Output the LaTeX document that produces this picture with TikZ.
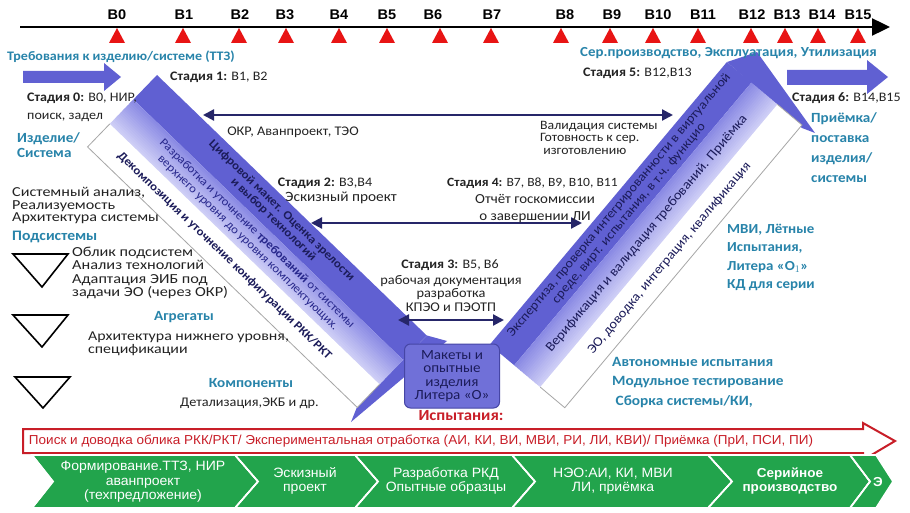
\documentclass[tikz,border=0pt]{standalone}
\usepackage{fontspec}
\setmainfont{Carlito}[FakeStretch=1.08]
\newfontfamily\midfont{Carlito}[FakeStretch=1.18]
\newfontfamily\ari{Liberation Sans}[FakeStretch=1.04]
\usetikzlibrary{arrows.meta}
\definecolor{hdc}{RGB}{40,132,170}
\definecolor{bandD}{RGB}{96,96,210}
\definecolor{midA}{RGB}{138,138,228}
\definecolor{midB}{RGB}{206,206,246}
\definecolor{navyc}{RGB}{28,28,90}
\definecolor{midtx}{RGB}{40,40,140}
\definecolor{arrc}{RGB}{38,38,105}
\definecolor{txtc}{RGB}{35,35,35}
\definecolor{redc}{RGB}{200,30,40}
\definecolor{grn}{RGB}{34,164,76}
\definecolor{trired}{RGB}{232,20,20}
\definecolor{boxf}{RGB}{112,112,216}
\definecolor{boxd}{RGB}{70,70,165}
\begin{document}
\begin{tikzpicture}[x=1pt,y=-1pt,
 txtn/.style={inner sep=0pt,text=txtc,font=\fontsize{13}{13}\selectfont},
 hdn/.style={inner sep=0pt,text=hdc,font=\fontsize{14}{15}\selectfont\bfseries},
 blab/.style={inner sep=0pt,font=\ari\bfseries\fontsize{14}{14}\selectfont},
 harr/.style={draw=arrc,line width=2.2pt,{Triangle[length=11pt,width=11pt]}-{Triangle[length=11pt,width=11pt]}},
 chev/.style={fill=grn,draw=white,line width=1.6pt,line join=miter},
 chtx/.style={inner sep=0pt,text=white,align=center,font=\ari\fontsize{13.5}{14.5}\selectfont},
 bandtx/.style={inner sep=0pt,transform shape,align=center,font=\fontsize{12}{13}\selectfont},
]
\useasboundingbox (0,0) rectangle (910,513);
\fill[white] (0,0) rectangle (910,513);

% ---------- timeline ----------
\coordinate (tlA) at (20,27);
\coordinate (tlB) at (890,27);
\draw[line width=2.4pt,-{Triangle[length=18pt,width=17pt]}] (tlA) -- (tlB);
\foreach \x in {117,183,239,286,339,387,440,491,561,610,653,698,751,785,818,858}
  \fill[trired] (\x-8,43) -- (\x,28) -- (\x+8,43) -- cycle;
\foreach \x/\t in {117/B0,184/B1,240/B2,285/B3,339/B4,387/B5,433/B6,492/B7,565/B8,612/B9,658/B10,703/B11,752/B12,787/B13,822/B14,858/B15}
  \node[blab] (lab\t) at (\x,15) {\t};

% ---------- side arrows ----------
\fill[bandD] (23,71) -- (104,71) -- (104,63) -- (121,77) -- (104,91) -- (104,83) -- (23,83) -- cycle;
\fill[bandD] (787,70) -- (867,70) -- (867,60) -- (888,77) -- (867,94) -- (867,85) -- (787,85) -- cycle;

% ---------- left band ----------
\fill[bandD] (427,335.5) -- (447,341) -- (351,422) -- (357,407) -- cycle;
\begin{scope}[shift={(157,75)},rotate=-44]
  \fill[bandD] (0,0) rectangle (375,34);
  \foreach \i in {0,...,16}{
    \pgfmathsetmacro\p{100-\i*100/16}
    \fill[midA!\p!midB] (0,34+2*\i) rectangle (375,36.6+2*\i);}
  \fill[white] (0,68) rectangle (375,100);
  \draw[gray!70,line width=0.8pt] (0,68) -- (0,100) -- (375,100) -- (375,68);
  \node[bandtx,text=navyc,font=\fontsize{12}{12}\selectfont\bfseries] (lt1) at (184,17)
     {Цифровой макет. Оценка зрелости\\и выбор технологий};
  \node[bandtx,text=midtx] (lt2) at (182,51)
     {Разработка  и уточнение \textbf{требований} от системы\\верхнего уровня  до уровня комплектующих.};
  \node[bandtx,text=navyc,font=\fontsize{12}{13}\selectfont\bfseries] (lt3) at (174,83)
     {Декомпозиция  и уточнение  конфигурации  РКК/РКТ};
\end{scope}

% ---------- right band ----------
\fill[bandD] (727,62) -- (757,52) -- (815,133) -- (802,128) -- cycle;
\begin{scope}[shift={(489.7,344.7)},rotate=50]
  \fill[bandD] (0,0) rectangle (369,32);
  \foreach \i in {0,...,16}{
    \pgfmathsetmacro\p{100-\i*100/16}
    \fill[midA!\p!midB] (0,32+2*\i) rectangle (369,34.6+2*\i);}
  \fill[white] (0,66) rectangle (369,98);
  \draw[gray!70,line width=0.8pt] (0,66) -- (0,98) -- (369,98) -- (369,66);
  \node[bandtx,text=navyc,font=\fontsize{13}{13}\selectfont] (rt1) at (190,16)
     {Экспертиза, проверка интегрированности  в виртуальной\\среде, вирт. испытания, в т.ч. функцио};
  \node[bandtx,text=navyc,font=\fontsize{13.5}{13}\selectfont] (rt2) at (186,49)
     {Верификация  и  валидация  требований.  Приёмка};
  \node[bandtx,text=navyc,font=\fontsize{13.3}{13}\selectfont] (rt3) at (182,82)
     {ЭО, доводка, интеграция, квалификация};
\end{scope}

% ---------- horizontal arrows ----------
\coordinate (h1l) at (203,115); \coordinate (h1r) at (673,115);
\coordinate (h2l) at (311,223); \coordinate (h2r) at (582,223);
\coordinate (h3l) at (398,320); \coordinate (h3r) at (504,320);
\draw[harr] (h1l) -- (h1r);
\draw[harr] (h2l) -- (h2r);
\draw[harr] (h3l) -- (h3r);

% ---------- central box ----------
\node[draw=boxd,fill=boxf,line width=1pt,rounded corners=6pt,minimum width=95pt,minimum height=64pt,
      inner sep=0pt,align=center,text=navyc,font=\fontsize{14}{13.5}\selectfont] (maket) at (452,376)
  {Макеты и\\опытные\\изделия\\Литера «О»};

% ---------- texts top ----------
\node[hdn,anchor=west,font=\fontsize{13}{14}\selectfont\bfseries] (ttz) at (7,57) {Требования  к изделию/системе (ТТЗ)};
\node[hdn,anchor=west,font=\fontsize{13.8}{14}\selectfont\bfseries] (ser) at (580,53) {Сер.производство, Эксплуатация, Утилизация};
\node[txtn,anchor=west] (st1) at (170,77) {\textbf{Стадия  1:} В1, В2};
\node[txtn,anchor=west] (st0a) at (27,98) {\textbf{Стадия 0:} В0, НИР,};
\node[txtn,anchor=west] (st0b) at (27,117) {поиск, задел};
\node[hdn,anchor=west,align=left,font=\fontsize{14}{15}\selectfont\bfseries] (izd) at (17,145.5) {Изделие/\\Система};
\node[txtn,anchor=west] (st5) at (583,73) {\textbf{Стадия 5:} В12,В13};
\node[txtn,anchor=west] (st6) at (792,98) {\textbf{Стадия 6:} В14,В15};
\node[hdn,anchor=west,align=left,font=\fontsize{14}{20}\selectfont\bfseries] (prm) at (811,147.5) {Приёмка/\\поставка\\изделия/\\системы};

% ---------- left column ----------
\node[txtn,anchor=west,align=left,font=\midfont\fontsize{13.7}{12.5}\selectfont] (sysan) at (12,205.5) {Системный анализ,\\Реализуемость\\Архитектура системы};
\node[hdn,anchor=west,font=\fontsize{14.5}{15}\selectfont\bfseries] (podsys) at (12,237) {Подсистемы};
\draw[line width=1.6pt] (13,254) -- (68,254) -- (42,287) -- cycle;
\node[txtn,anchor=west,align=left,font=\midfont\fontsize{13.8}{13.3}\selectfont] (oblik) at (72,273) {Облик подсистем\\Анализ технологий\\Адаптация ЭИБ под\\задачи ЭО (через ОКР)};
\draw[line width=1.6pt] (13,315) -- (68,315) -- (42,347) -- cycle;
\node[hdn] (agr) at (184,317) {Агрегаты};
\node[txtn,anchor=west,align=left,font=\midfont\fontsize{13.5}{13}\selectfont] (arch) at (88,343.5) {Архитектура нижнего уровня,\\спецификации};
\draw[line width=1.6pt] (15,377) -- (70,377) -- (43,408) -- cycle;
\node[hdn] (komp) at (251,383) {Компоненты};
\node[txtn,anchor=west,font=\fontsize{13.2}{13}\selectfont] (detal) at (180,403) {Детализация,ЭКБ и др.};

% ---------- middle texts ----------
\node[txtn,font=\fontsize{13.2}{13}\selectfont] (okr) at (293,132) {ОКР, Аванпроект, ТЭО};
\node[txtn,anchor=west,align=left,font=\fontsize{12.8}{12.5}\selectfont] (valid) at (540,137.5) {Валидация системы\\Готовность к  сер.\\\ изготовлению};
\node[txtn] (st2) at (325,183) {\textbf{Стадия 2:} В3,В4};
\node[txtn,font=\fontsize{14.2}{13}\selectfont] (eskiz) at (341,198) {Эскизный проект};
\node[txtn,anchor=west,font=\fontsize{12.6}{13}\selectfont] (st4) at (447,183) {\textbf{Стадия 4:} В7, В8, В9, В10, В11};
\node[txtn,align=center,font=\fontsize{13.8}{16.5}\selectfont] (otch) at (535,208.5) {Отчёт госкомиссии\\о завершении ЛИ};
\node[txtn] (st3) at (450,265) {\textbf{Стадия 3:} В5, В6};
\node[txtn,align=center,font=\fontsize{13.3}{13.5}\selectfont] (rab) at (451,293.5) {рабочая  документация\\разработка\\КПЭО и ПЭОТП};

% ---------- right column ----------
\node[hdn,anchor=west,align=left,font=\fontsize{13.8}{18.5}\selectfont\bfseries] (mvi) at (727,257.5) {МВИ, Лётные\\Испытания,\\Литера «О$_1$»\\КД для серии};
\node[hdn,anchor=west,align=left,font=\fontsize{14.2}{19.5}\selectfont\bfseries] (avt) at (612,382.5) {Автономные испытания\\Модульное тестирование\\\ Сборка системы/КИ,};

% ---------- tests arrow ----------
\node[inner sep=0pt,text=redc,font=\fontsize{15.5}{16}\selectfont\bfseries] (isp) at (461,416) {Испытания:};
\draw[draw=redc,fill=white,line width=2pt,line join=miter] (23,429) -- (863,429) -- (863,423) -- (895,441) -- (863,460) -- (863,453) -- (23,453) -- cycle;
\node[inner sep=0pt,text=redc,font=\ari\fontsize{13}{13}\selectfont] (poisk) at (421,441)
  {Поиск и доводка  облика РКК/РКТ/ Экспериментальная отработка (АИ, КИ, ВИ, МВИ, РИ, ЛИ, КВИ)/ Приёмка (ПрИ, ПСИ, ПИ)};

% ---------- green chevrons ----------
\fill[chev] (32,455) -- (235,455) -- (258,481.5) -- (235,508) -- (32,508) -- (53,481.5) -- cycle;
\fill[chev] (235,455) -- (355,455) -- (378,481.5) -- (355,508) -- (235,508) -- (258,481.5) -- cycle;
\fill[chev] (355,455) -- (512,455) -- (535,481.5) -- (512,508) -- (355,508) -- (378,481.5) -- cycle;
\fill[chev] (512,455) -- (708,455) -- (732,481.5) -- (708,508) -- (512,508) -- (535,481.5) -- cycle;
\fill[chev] (708,455) -- (850,455) -- (870,481.5) -- (850,508) -- (708,508) -- (732,481.5) -- cycle;
\fill[chev] (850,455) -- (876,455) -- (893,481.5) -- (876,508) -- (850,508) -- (870,481.5) -- cycle;
\draw[white,line width=1.6pt] (32,455) -- (53,481.5) -- (32,508)
  (235,455) -- (258,481.5) -- (235,508) (355,455) -- (378,481.5) -- (355,508)
  (512,455) -- (535,481.5) -- (512,508) (708,455) -- (732,481.5) -- (708,508)
  (850,455) -- (870,481.5) -- (850,508);
\node[chtx] (c1) at (143,482) {Формирование.ТТЗ, НИР\\аванпроект\\(техпредложение)};
\node[chtx] (c2) at (305,481) {Эскизный\\проект};
\node[chtx] (c3) at (446,481) {Разработка РКД\\Опытные образцы};
\node[chtx] (c4) at (613,481) {НЭО:АИ, КИ, МВИ\\ЛИ, приёмка};
\node[chtx,font=\ari\bfseries\fontsize{13}{14.5}\selectfont] (c5) at (790,481) {Серийное\\производство};
\node[chtx,font=\ari\bfseries\fontsize{13}{14}\selectfont] (c6) at (878,482) {Э};
\end{tikzpicture}
\end{document}
